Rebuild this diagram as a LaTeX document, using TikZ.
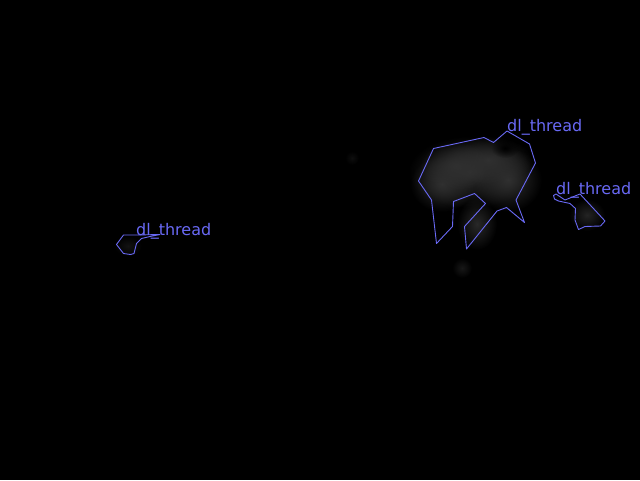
\documentclass[tikz,border=0pt]{standalone}
\usepackage{fontspec}
\newfontfamily\labelfont{DejaVu Sans}
\usetikzlibrary{positioning,fadings}
\definecolor{contourblue}{RGB}{105,105,245}
\definecolor{heatgray}{RGB}{48,48,48}
\tikzfading[name=softedge, inner color=transparent!0, outer color=transparent!100]

\begin{document}
\begin{tikzpicture}[x=1pt, y=-1pt,
  regionstyle/.style={
        draw=contourblue,
        line width=0.9pt,
        line join=round
  },
  labelstyle/.style={
        text=contourblue,
        font=\labelfont\fontsize{16}{16}\selectfont,
        inner sep=0pt,
        anchor=base west
  },
  blobstyle/.style={
        fill=#1,
        path fading=softedge
  }
]

    \useasboundingbox[fill=black] (0,0) rectangle (640,480);

    % heat blobs
    \fill[blobstyle=heatgray] (470,172) ellipse (62pt and 36pt);
    \fill[blobstyle=heatgray] (508,180) ellipse (34pt and 32pt);
    \fill[blobstyle=heatgray] (442,184) ellipse (32pt and 28pt);
    \fill[blobstyle=heatgray] (488,160) ellipse (44pt and 24pt);
    \fill[blobstyle=heatgray] (456,166) ellipse (36pt and 24pt);
    \fill[blobstyle=heatgray!85!black] (477,224) ellipse (20pt and 26pt);
    \fill[blobstyle=heatgray!50!black] (462,268) ellipse (10pt and 10pt);
    \fill[blobstyle=heatgray!75!black] (587,215) ellipse (18pt and 16pt);
    \fill[blobstyle=heatgray!40!black] (128,246) ellipse (14pt and 10pt);
    \fill[blobstyle=heatgray!30!black] (352,158) ellipse (7pt and 7pt);
    \fill[blobstyle=black] (505,148) ellipse (14pt and 10pt);

    % label anchors
    \coordinate (T1) at (507,131);
    \coordinate (T2) at (556,194);
    \coordinate (T3) at (136,235);

    % regions
    \draw[regionstyle] (T1) -- (529.5,144) -- (535.5,163) -- (516,200)
        -- (524.5,222.5) -- (506.5,207.5) -- (497,211) -- (466.5,249)
        -- (464.5,226.5) -- (485.5,203.5) -- (474.5,193.5) -- (453.5,201.5)
        -- (452.5,226.5) -- (436.5,243.5) -- (431.5,200) -- (418.5,181)
        -- (433.5,148.5) -- (484,137.5) -- (493.5,142.5) -- cycle;
    \draw[regionstyle] (T2) -- (565,200) -- (580,194) -- (605,221)
        -- (600.5,226) -- (585,226.5) -- (578.5,229.5) -- (575,220)
        -- (575.5,208.5) -- (570,203.5) -- (558.5,201) -- (554.5,199)
        -- (553.5,195.5) -- cycle;
    \draw[regionstyle] (123.5,235) -- (T3) -- (160,234.5) -- (150,236.5)
        -- (141.5,238.5) -- (136.5,243.5) -- (134,253.5) -- (130.5,254.5)
        -- (123.5,253.5) -- (116.5,244.5) -- cycle;

    % labels
    \node[labelstyle] (thread1) at (T1) {dl\_thread};
    \node[labelstyle] (thread2) at (T2) {dl\_thread};
    \node[labelstyle] (thread3) at (T3) {dl\_thread};
\end{tikzpicture}
\end{document}
